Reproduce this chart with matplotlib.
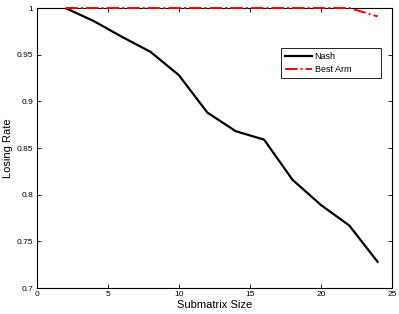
import matplotlib
matplotlib.use("Agg")
import matplotlib.pyplot as plt

plt.rcParams['font.family'] = ['Liberation Sans', 'DejaVu Sans']

# data
sizes = [2, 4, 6, 8, 10, 12, 14, 16, 18, 20, 22, 24]
nash = [1.0, 0.986, 0.969, 0.953, 0.928, 0.888, 0.868, 0.859, 0.816, 0.789, 0.767, 0.728]
best_arm = [1.0, 1.0, 1.0, 1.0, 1.0, 1.0, 1.0, 1.0, 1.0, 1.0, 1.0, 0.991]

fig = plt.figure(figsize=(3.99, 3.14), dpi=100)
ax = fig.add_axes([0.0927, 0.0828, 0.8893, 0.8917])

ax.plot(sizes, nash, color='black', lw=1.6, label='Nash')
ax.plot(sizes, best_arm, color='red', lw=1.4, ls='-.', label='Best Arm',
        clip_on=False, zorder=5)

ax.set_xlim(0, 25)
ax.set_ylim(0.7, 1.0)
ax.set_xticks([0, 5, 10, 15, 20, 25])
ax.set_yticks([0.7, 0.75, 0.8, 0.85, 0.9, 0.95, 1.0])
ax.set_yticklabels(['0.7', '0.75', '0.8', '0.85', '0.9', '0.95', '1'])
ax.tick_params(direction='in', top=True, right=True, labelsize=6, length=3, width=0.6, pad=2.5)
for s in ax.spines.values():
    s.set_linewidth(0.8)

ax.set_xlabel('Submatrix Size', fontsize=8, labelpad=1)
ax.set_ylabel('Losing Rate', fontsize=8, labelpad=3)

leg = ax.legend(loc='upper left', bbox_to_anchor=(0.687, 0.858, 0.282, 0.0),
                mode='expand', fontsize=6.5, fancybox=False, edgecolor='black',
                framealpha=1, handlelength=3.0, borderpad=0.45, borderaxespad=0,
                labelspacing=0.45, handletextpad=0.3)
leg.get_frame().set_linewidth(0.6)

fig.savefig('out.png', dpi=100)
